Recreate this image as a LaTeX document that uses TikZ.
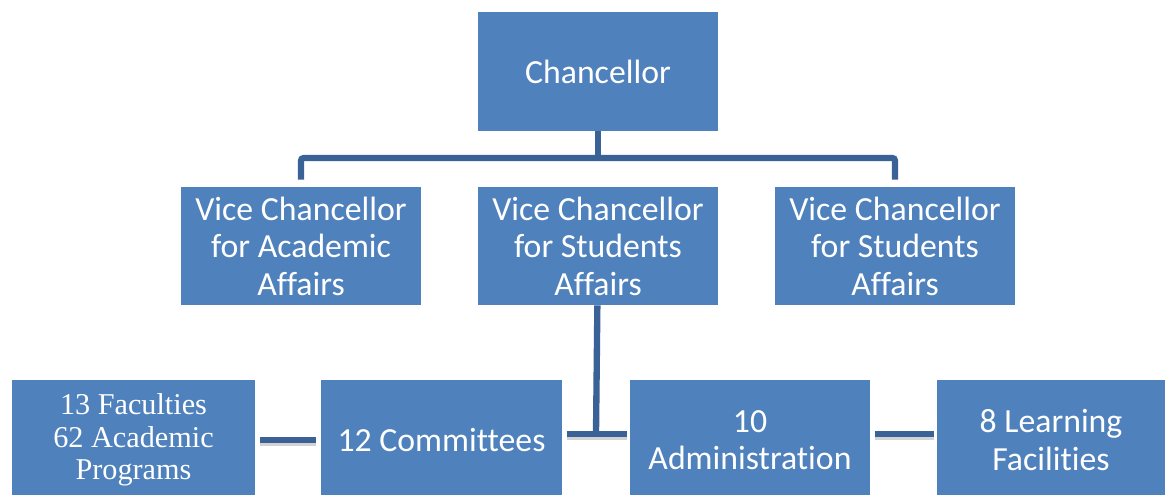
\documentclass[tikz,border=0pt]{standalone}
\usepackage{fontspec}
\setmainfont[Ligatures=NoCommon]{Carlito}
\newfontfamily\timesfont{Liberation Serif}
\definecolor{boxblue}{HTML}{4F81BD}
\definecolor{linkblue}{HTML}{3B6296}
\begin{document}
\begin{tikzpicture}
    [
    x=0.025cm,y=-0.025cm,
    box/.style={rectangle,fill=boxblue,text=white,inner sep=0pt,
      minimum width=6cm,minimum height=2.95cm,align=center,
      font=\fontsize{24}{26.7}\selectfont},
    serifbox/.style={box,font=\timesfont\fontsize{21.5}{23.2}\selectfont},
    link/.style={draw=linkblue,line width=4.5pt},
    shade/.style={preaction={draw=gray!35,line width=4.5pt,
      transform canvas={yshift=-0.07cm}}}
    ]
    \useasboundingbox (0,0) rectangle (1165,494);
    \node (chan) at (598,71.5) [box] {Chancellor};
    \node (vc1) at (301,246) [box] {Vice Chancellor\\for Academic\\Affairs};
    \node (vc2) at (598,246) [box] {Vice Chancellor\\for Students\\Affairs};
    \node (vc3) at (895,246) [box] {Vice Chancellor\\for Students\\Affairs};
    \node (fac) at (133.5,440) [serifbox,minimum width=6.075cm,minimum height=3cm] {13 Faculties\\62 Academic\\Programs};
    \node (com) at (441.5,440) [box,minimum width=6.025cm,minimum height=3cm] {12 Committees};
    \node (adm) at (750,440) [box,minimum height=3cm] {10\\Administration};
    \node (lea) at (1051,440) [box,minimum width=5.7cm,minimum height=3cm] {8 Learning\\Facilities};
    \coordinate (top) at (598,158);
    \coordinate (mid) at (596,434);
    \draw [link] (chan) -- (top);
    \draw [link,rounded corners=2pt,shorten <=5pt] (vc1.north) |- (top);
    \draw [link,rounded corners=2pt,shorten <=5pt] (vc3.north) |- (top);
    \draw [link,shorten >=-2pt] (vc2) -- (mid);
    \draw [link,shade,shorten <=3pt,shorten >=2pt] (com.east |- mid) -- (adm.west |- mid);
    \draw [link,shade,shorten <=3pt,shorten >=3pt] (fac.east) -- (com.west);
    \draw [link,shade,shorten <=3pt,shorten >=2pt] (adm.east |- mid) -- (lea.west |- mid);
  \end{tikzpicture}
\end{document}
